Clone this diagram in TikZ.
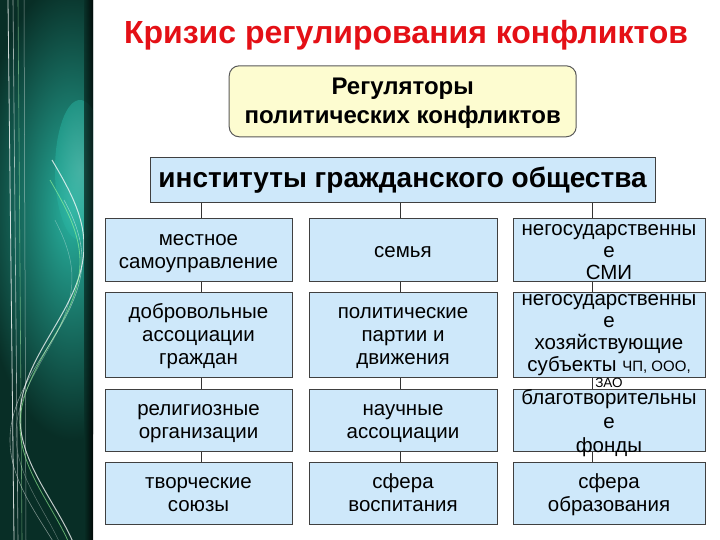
\documentclass[tikz,border=0pt]{standalone}
\usepackage{fontspec}
\setmainfont{Liberation Sans}
\usetikzlibrary{positioning}

\definecolor{cellblue}{RGB}{206,232,250}
\definecolor{regyellow}{RGB}{253,252,208}
\definecolor{titlered}{RGB}{228,16,22}
\definecolor{stripdark}{RGB}{8,46,38}
\definecolor{stripteal}{RGB}{40,178,160}

% line struts, so that every text block sits like in the slide
\newcommand\cs{\rule[-4.5pt]{0pt}{23pt}}
\newcommand\regstrut{\rule[-6.5pt]{0pt}{29pt}}
\newcommand\smistrut{\rule[-4.2pt]{0pt}{21.5pt}}
\newcommand\firmstrut{\rule[-4.5pt]{0pt}{22pt}}
\newcommand\fondstrut{\rule[-5pt]{0pt}{24pt}}

\tikzset{
    cell/.style={draw=black!75, fill=cellblue, line width=1pt, inner sep=0pt,
        minimum width=187pt, align=center, font=\fontsize{20.5}{23}\selectfont},
    spill/.style={inner sep=0pt, align=center},
    link/.style={draw=black!80, line width=0.9pt}
}

\begin{document}
\begin{tikzpicture}[x=1pt,y=-1pt]

        \useasboundingbox[fill=white] (0,0) rectangle (720,540);

        % left strip of the slide
        \fill[stripdark] (0,0) rectangle (93,540);
        \begin{scope}
            \clip (0,0) rectangle (93,540);
            \shade[inner color=stripteal, outer color=stripdark] (72,210) ellipse (95 and 230);
            \shade[inner color=stripteal!70!white, outer color=stripteal, opacity=0.5] (80,170) ellipse (25 and 70);
            \draw[white, opacity=0.8, line width=0.8pt] (8,0) -- (14,540);
            \draw[white, opacity=0.6, line width=0.6pt] (13,0) -- (18,540);
            \draw[white!70!green, opacity=0.5, line width=0.6pt] (18,0) -- (22,540);
            \draw[white, opacity=0.5, line width=0.5pt] (24,0) -- (26,540);
            \draw[white, opacity=0.75, line width=1pt] plot[domain=160:540, samples=90] ({52+32*sin((\x-160)*1.05)}, \x);
            \draw[white!60!green, opacity=0.6, line width=0.8pt] plot[domain=180:540, samples=90] ({50+30*sin((\x-180)*1.1)}, \x);
            \draw[white, opacity=0.45, line width=0.6pt] plot[domain=200:540, samples=90] ({46+36*sin((\x-170)*1.0)}, \x);
            \draw[white, opacity=0.35, line width=0.5pt] plot[domain=220:540, samples=90] ({44+28*sin((\x-200)*1.15)}, \x);
            \shade[left color=stripdark, right color=black, opacity=0.8] (84,0) rectangle (93,540);
        \end{scope}

        \node[text=titlered, font=\bfseries\fontsize{32}{36}\selectfont] (title) at (406,35) {Кризис регулирования конфликтов};

        \node[draw=black!65, fill=regyellow, line width=1pt, rounded corners=10pt,
            minimum width=347pt, minimum height=71pt, inner sep=0pt, align=center,
            font=\bfseries\fontsize{24}{29}\selectfont] (reg) at (402.7,101.3) {\regstrut Регуляторы\\политических конфликтов\regstrut};

        \node[draw=black!75, fill=cellblue, line width=1pt, inner sep=0pt,
            minimum width=505pt, minimum height=45pt,
            font=\bfseries\fontsize{28}{30}\selectfont] (inst) at (402.5,180) {институты гражданского общества};

        % left column
        \node[cell, minimum height=62pt] (l1) at (198.5,250) {\cs местное\\самоуправление\cs};
        \node[cell, minimum height=85pt] (l2) at (198.5,334.5) {\cs добровольные\\ассоциации\\граждан\cs};
        \node[cell, minimum height=62pt] (l3) at (198.5,420) {\cs религиозные\\организации\cs};
        \node[cell, minimum height=62pt] (l4) at (198.5,493) {\cs творческие\\союзы\cs};

        % middle column
        \node[cell, minimum width=188pt, minimum height=62pt] (m1) at (403,250) {\cs семья};
        \node[cell, minimum width=188pt, minimum height=85pt] (m2) at (403,334.5) {\cs политические\\партии и\\движения\cs};
        \node[cell, minimum width=188pt, minimum height=62pt] (m3) at (403,420) {\cs научные\\ассоциации\cs};
        \node[cell, minimum width=188pt, minimum height=62pt] (m4) at (403,493) {\cs сфера\\воспитания\cs};

        % right column (text runs out of the boxes)
        \node[cell, minimum width=192pt, minimum height=62pt] (r1) at (609,250) {};
        \node[cell, minimum width=192pt, minimum height=85pt] (r2) at (609,334.5) {};
        \node[cell, minimum width=192pt, minimum height=62pt] (r3) at (609,420) {};
        \node[cell, minimum width=192pt, minimum height=62pt] (r4) at (609,493) {\cs сфера\\образования\cs};

        \foreach \c/\s in {l/3,m/-3,r/-17} {
            \coordinate (\c top) at ([xshift=\s pt]\c1.north);
            \draw[link] (inst.south -| \c top) -- (\c top);
            \foreach \a/\b in {1/2,2/3,3/4}
                \draw[link] ([xshift=\s pt]\c\a.south) -- ([xshift=\s pt]\c\b.north);
        }

        \node[spill, font=\fontsize{20.5}{21.8}\selectfont, yshift=-1pt] (r1t) at (r1)
            {\smistrut негосударственны\\е\\СМИ\smistrut};
        \node[spill, font=\fontsize{20.5}{22}\selectfont, anchor=north, yshift=3.5pt] (r2t) at (r2.north)
            {\firmstrut негосударственны\\е\\хозяйствующие\\субъекты {\fontsize{15}{16}\selectfont ЧП, ООО,}\\[-6pt]{\fontsize{13.5}{15}\selectfont ЗАО}};
        \node[spill, font=\fontsize{20.5}{24}\selectfont, yshift=-1pt] (r3t) at (r3)
            {\fondstrut благотворительны\\е\\фонды\fondstrut};

\end{tikzpicture}
\end{document}
